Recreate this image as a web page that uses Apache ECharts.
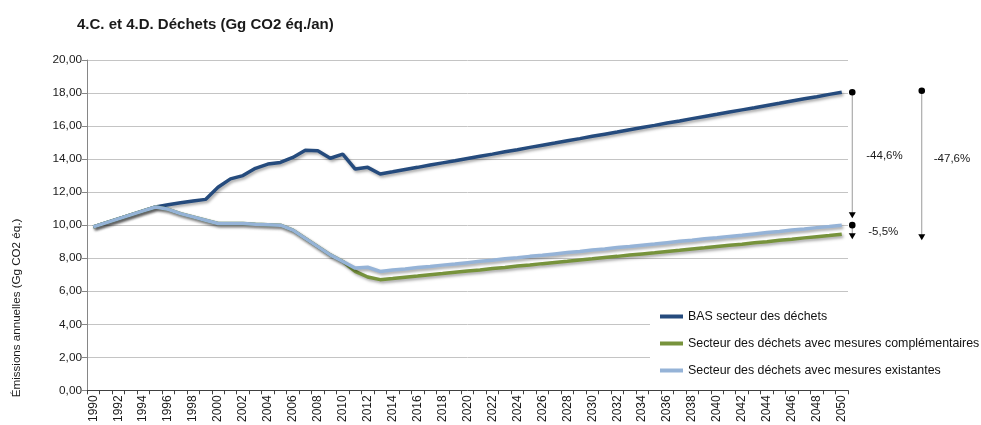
<!DOCTYPE html>
<html>
<head>
<meta charset="utf-8">
<script src="https://cdn.jsdelivr.net/npm/echarts@6/dist/echarts.min.js"></script>
<style>
html,body{margin:0;padding:0;background:#fff;}
#c{width:981px;height:425px;}
</style>
</head>
<body>
<div id="c"></div>
<script>
var years = [];
for (var y = 1990; y <= 2050; y++) years.push(String(y));

var basDechets = [9.90, 10.14, 10.38, 10.62, 10.86, 11.10, 11.24, 11.36, 11.46, 11.56,
  12.30, 12.80, 13.00, 13.44, 13.70, 13.80, 14.10, 14.54, 14.50, 14.05,
  14.30, 13.40, 13.50, 13.10, 13.23, 13.37, 13.50, 13.64, 13.77, 13.90,
  14.04, 14.17, 14.30, 14.44, 14.57, 14.71, 14.84, 14.97, 15.11, 15.24,
  15.38, 15.51, 15.64, 15.78, 15.91, 16.04, 16.18, 16.31, 16.45, 16.58,
  16.71, 16.85, 16.98, 17.11, 17.25, 17.38, 17.52, 17.65, 17.78, 17.92, 18.05];

var mesuresComplementaires = [9.90, 10.14, 10.38, 10.62, 10.86, 11.10, 10.96, 10.70, 10.50, 10.30,
  10.10, 10.10, 10.10, 10.05, 10.03, 10.00, 9.70, 9.20, 8.70, 8.20,
  7.80, 7.20, 6.86, 6.70, 6.77, 6.85, 6.92, 7.00, 7.07, 7.15,
  7.22, 7.29, 7.37, 7.44, 7.52, 7.59, 7.67, 7.74, 7.81, 7.89,
  7.96, 8.04, 8.11, 8.19, 8.26, 8.33, 8.41, 8.48, 8.56, 8.63,
  8.71, 8.78, 8.85, 8.93, 9.00, 9.08, 9.15, 9.23, 9.30, 9.37, 9.45];

var mesuresExistantes = [9.90, 10.14, 10.38, 10.62, 10.86, 11.10, 10.96, 10.70, 10.50, 10.30,
  10.10, 10.10, 10.10, 10.05, 10.03, 10.00, 9.70, 9.20, 8.70, 8.20,
  7.80, 7.40, 7.45, 7.20, 7.28, 7.35, 7.43, 7.50, 7.58, 7.65,
  7.73, 7.81, 7.88, 7.96, 8.03, 8.11, 8.18, 8.26, 8.34, 8.41,
  8.49, 8.56, 8.64, 8.71, 8.79, 8.86, 8.94, 9.02, 9.09, 9.17,
  9.24, 9.32, 9.39, 9.47, 9.55, 9.62, 9.70, 9.77, 9.85, 9.92, 10.00];

var seriesNames = ['BAS secteur des déchets',
  'Secteur des déchets avec mesures complémentaires',
  'Secteur des déchets avec mesures existantes'];
var annotationLabels = ['-44,6%', '-5,5%', '-47,6%'];

var FONT = '"Liberation Sans", Arial, sans-serif';
var chart = echarts.init(document.getElementById('c'), null, {renderer: 'canvas'});

function lineSeries(name, data, color, z) {
  return {
    name: name, type: 'line', data: data, symbol: 'none', z: z,
    lineStyle: {color: color, width: 3.5, shadowColor: 'rgba(0,0,0,0.35)', shadowBlur: 3, shadowOffsetX: 1.5, shadowOffsetY: 2},
    itemStyle: {color: color},
    animation: false
  };
}

chart.setOption({
  animation: false,
  textStyle: {fontFamily: FONT},
  title: {
    text: '4.C. et 4.D. Déchets (Gg CO2 éq./an)',
    left: 72, top: 12,
    textStyle: {fontFamily: FONT, fontSize: 15, fontWeight: 'bold', color: '#1a1a1a'}
  },
  grid: {left: 87, right: 133, top: 60, bottom: 32, containLabel: false},
  legend: {
    orient: 'vertical', left: 650, top: 303,
    padding: [6, 6, 6, 10],
    backgroundColor: '#fff',
    itemGap: 12, itemWidth: 23, itemHeight: 4,
    icon: 'rect',
    textStyle: {fontFamily: FONT, fontSize: 12.4, color: '#111', lineHeight: 15},
    data: seriesNames
  },
  xAxis: {
    type: 'category', data: years, boundaryGap: true,
    axisLine: {lineStyle: {color: '#404040', width: 1}},
    axisTick: {show: true, interval: 0, alignWithLabel: false, length: 4, lineStyle: {color: '#404040'}},
    axisLabel: {interval: 1, rotate: 90, fontSize: 12, color: '#1a1a1a', margin: 5, fontFamily: FONT},
    splitLine: {show: false}
  },
  yAxis: {
    type: 'value', min: 0, max: 20, interval: 2,
    axisLine: {show: true, lineStyle: {color: '#868686'}},
    axisTick: {show: true, length: 5, lineStyle: {color: '#868686'}},
    axisLabel: {fontSize: 11.8, color: '#1a1a1a', margin: 5, fontFamily: FONT,
      formatter: function (v) { return v.toFixed(2).replace('.', ','); }},
    splitLine: {lineStyle: {color: '#c4c4c4', width: 1}}
  },
  series: [
    lineSeries(seriesNames[0], basDechets, '#254B7D', 3),
    lineSeries(seriesNames[1], mesuresComplementaires, '#77933C', 4),
    lineSeries(seriesNames[2], mesuresExistantes, '#95B3D7', 5)
  ]
});

// annotations placed through the chart's own scales
var last = years.length - 1;
var x2050 = chart.convertToPixel({xAxisIndex: 0}, years[last]);
var yBAS = chart.convertToPixel({yAxisIndex: 0}, basDechets[last]);
var yEx = chart.convertToPixel({yAxisIndex: 0}, mesuresExistantes[last]);
var yCo = chart.convertToPixel({yAxisIndex: 0}, mesuresComplementaires[last]);
var xa = x2050 + 10.5, xb = x2050 + 80;

function dot(x, y) { return {type: 'circle', shape: {cx: x, cy: y, r: 3.3}, style: {fill: '#000'}, z: 20}; }
function vline(x, y1, y2) { return {type: 'line', shape: {x1: x, y1: y1, x2: x, y2: y2}, style: {stroke: '#9a9a9a', lineWidth: 1}, z: 19}; }
function tri(x, tip) { return {type: 'polygon', shape: {points: [[x - 3.5, tip - 6], [x + 3.5, tip - 6], [x, tip]]}, style: {fill: '#000'}, z: 20}; }
function txt(x, y, s) { return {type: 'text', x: x, y: y, style: {text: s, font: '11.5px ' + FONT, fill: '#1a1a1a', textAlign: 'left', textVerticalAlign: 'middle'}, z: 20}; }

chart.setOption({
  graphic: [
    vline(xa, yBAS, yEx - 8), dot(xa, yBAS), tri(xa, yEx - 7),
    vline(xa, yEx, yCo + 3), dot(xa, yEx), tri(xa, yCo + 5),
    vline(xb, yBAS - 1.5, yCo + 4), dot(xb, yBAS - 1.5), tri(xb, yCo + 6),
    txt(xa + 14, (yBAS + yEx) / 2 - 3, annotationLabels[0]),
    txt(xa + 16, yCo - 2, annotationLabels[1]),
    txt(xb + 12, (yBAS + yCo) / 2 - 4, annotationLabels[2]),
    {type: 'text', x: 17, y: 308, rotation: Math.PI / 2,
      style: {text: 'Émissions annuelles (Gg CO2 éq.)', font: '11.6px ' + FONT, fill: '#1a1a1a', textAlign: 'center', textVerticalAlign: 'middle'}}
  ]
});
</script>
</body>
</html>
